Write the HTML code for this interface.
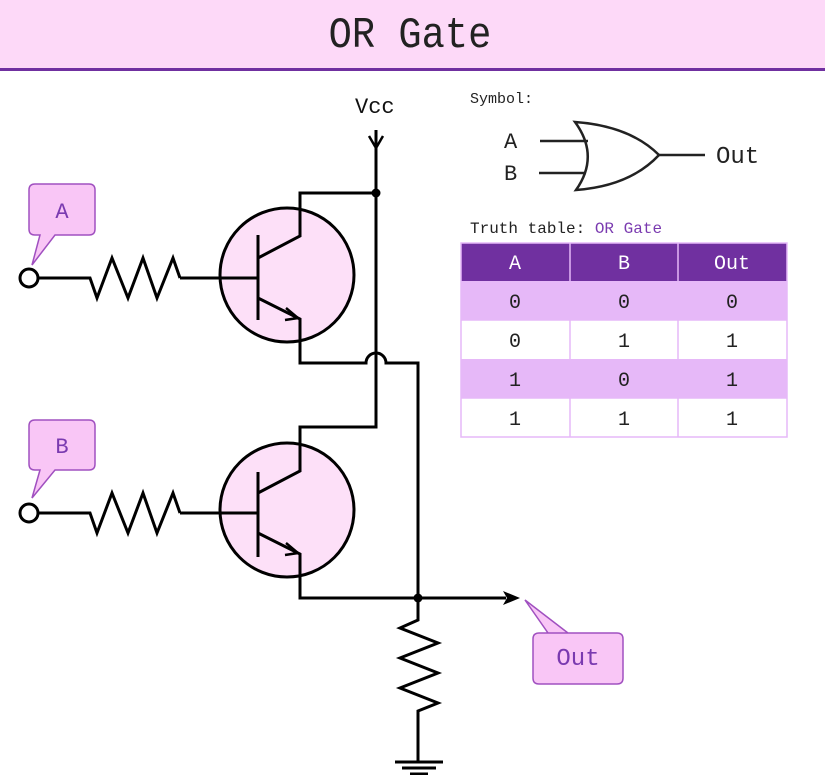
<!DOCTYPE html>
<html><head><meta charset="utf-8"><style>
html,body{margin:0;padding:0;background:#fff;width:825px;height:775px;overflow:hidden}
text{font-family:"Liberation Mono",monospace}
</style></head><body>
<svg width="825" height="775" viewBox="0 0 825 775" xmlns="http://www.w3.org/2000/svg">
<rect x="0" y="0" width="825" height="69" fill="#fdd9f8"/>
<rect x="0" y="68" width="825" height="3" fill="#7030a0"/>
<text x="410" y="47" font-size="44" text-anchor="middle" fill="#222" transform="translate(410,0) scale(0.88,1) translate(-410,0)">OR Gate</text>

<g stroke="#000" stroke-width="3" fill="none">
<line x1="376" y1="130" x2="376" y2="350"/>
<path d="M369 136 L376 148 L383 136" stroke-width="2.5"/>
<path d="M376 350 L376 427 L300 427 L300 470"/>
<circle cx="287" cy="275" r="67" fill="#fde0f8"/>
<line x1="258" y1="235" x2="258" y2="320"/>
<path d="M258 258 L300 236 L300 193 L376 193"/>
<path d="M258 298 L300 319 L300 363 L366 363 A10 10 0 0 1 386 363 L418 363 L418 598"/>
<path d="M286 308 L298 318 L285 320" stroke-width="2.5"/>
<line x1="180" y1="278" x2="258" y2="278"/>
<circle cx="29" cy="278" r="9" fill="#fff"/>
<path d="M38 278 L90 278 L97 298 L112 258 L128 298 L143 258 L157 298 L173 258 L180 278"/>
<circle cx="287" cy="510" r="67" fill="#fde0f8"/>
<line x1="258" y1="472" x2="258" y2="557"/>
<path d="M258 493 L300 471 L300 427"/>
<path d="M258 533 L300 554 L300 598 L506 598"/>
<path d="M286 543 L298 553 L285 555" stroke-width="2.5"/>
<line x1="180" y1="513" x2="258" y2="513"/>
<circle cx="29" cy="513" r="9" fill="#fff"/>
<path d="M38 513 L90 513 L97 533 L112 493 L128 533 L143 493 L157 533 L173 493 L180 513"/>
<path d="M418 598 L418 620 L400 628 L438 643 L400 658 L438 673 L400 688 L438 703 L418 711 L418 762"/>
<line x1="395" y1="762" x2="443" y2="762"/>
<line x1="402" y1="768" x2="436" y2="768"/>
<line x1="410" y1="774" x2="428" y2="774"/>
</g>
<path d="M503 591 L520 598 L503 605 L507 598 Z" fill="#000"/>
<circle cx="376" cy="193" r="4.5" fill="#000"/>
<circle cx="418" cy="598" r="4.5" fill="#000"/>
<text x="355" y="113" font-size="22" fill="#111">Vcc</text>

<g fill="#f9c6f6" stroke="#a050c0" stroke-width="1.5">
<path d="M35 184 H89 Q95 184 95 190 V229 Q95 235 89 235 H55 L32 265 L40 235 H35 Q29 235 29 229 V190 Q29 184 35 184 Z"/>
<path d="M35 420 H89 Q95 420 95 426 V464 Q95 470 89 470 H55 L32 498 L40 470 H35 Q29 470 29 464 V426 Q29 420 35 420 Z"/>
<path d="M539 633 H617 Q623 633 623 639 V678 Q623 684 617 684 H539 Q533 684 533 678 V639 Q533 633 539 633 H568 L525 600 L548 633 Z"/>
</g>
<text x="62" y="218" font-size="22" fill="#7a3ab0" text-anchor="middle">A</text>
<text x="62" y="453" font-size="22" fill="#7a3ab0" text-anchor="middle">B</text>
<text x="578" y="665" font-size="24" fill="#7a3ab0" text-anchor="middle">Out</text>

<text x="470" y="103" font-size="15" fill="#222">Symbol:</text>
<text x="504" y="148" font-size="22" fill="#222">A</text>
<text x="504" y="180" font-size="22" fill="#222">B</text>
<g stroke="#222" stroke-width="2.5" fill="none">
<line x1="540" y1="141" x2="588" y2="141"/>
<line x1="539" y1="173" x2="586" y2="173"/>
<path d="M575 122 Q600 156 576 190 Q630 186 659 155 Q630 126 575 122 Z"/>
<line x1="659" y1="155" x2="705" y2="155"/>
</g>
<text x="716" y="163" font-size="24" fill="#222">Out</text>

<text x="470" y="233" font-size="16" fill="#222">Truth table: <tspan fill="#7a3ab0">OR Gate</tspan></text>
<rect x="461" y="243" width="326" height="38" fill="#7030a0"/>
<rect x="461" y="281" width="326" height="39" fill="#e6b8f8"/>
<rect x="461" y="320" width="326" height="39" fill="#fff"/>
<rect x="461" y="359" width="326" height="39" fill="#e6b8f8"/>
<rect x="461" y="398" width="326" height="39" fill="#fff"/>
<g stroke="#e6b8f8" stroke-width="1.5" fill="none">
<rect x="461" y="243" width="326" height="194"/>
<line x1="570" y1="243" x2="570" y2="437"/>
<line x1="678" y1="243" x2="678" y2="437"/>
<line x1="461" y1="320" x2="787" y2="320"/>
<line x1="461" y1="398" x2="787" y2="398"/>
</g>
<g font-size="20" text-anchor="middle" fill="#222">
<text x="515" y="269" fill="#fff">A</text><text x="624" y="269" fill="#fff">B</text><text x="732" y="269" fill="#fff">Out</text>
<text x="515" y="308">0</text><text x="624" y="308">0</text><text x="732" y="308">0</text>
<text x="515" y="347">0</text><text x="624" y="347">1</text><text x="732" y="347">1</text>
<text x="515" y="386">1</text><text x="624" y="386">0</text><text x="732" y="386">1</text>
<text x="515" y="425">1</text><text x="624" y="425">1</text><text x="732" y="425">1</text>
</g>
</svg>
</body></html>
